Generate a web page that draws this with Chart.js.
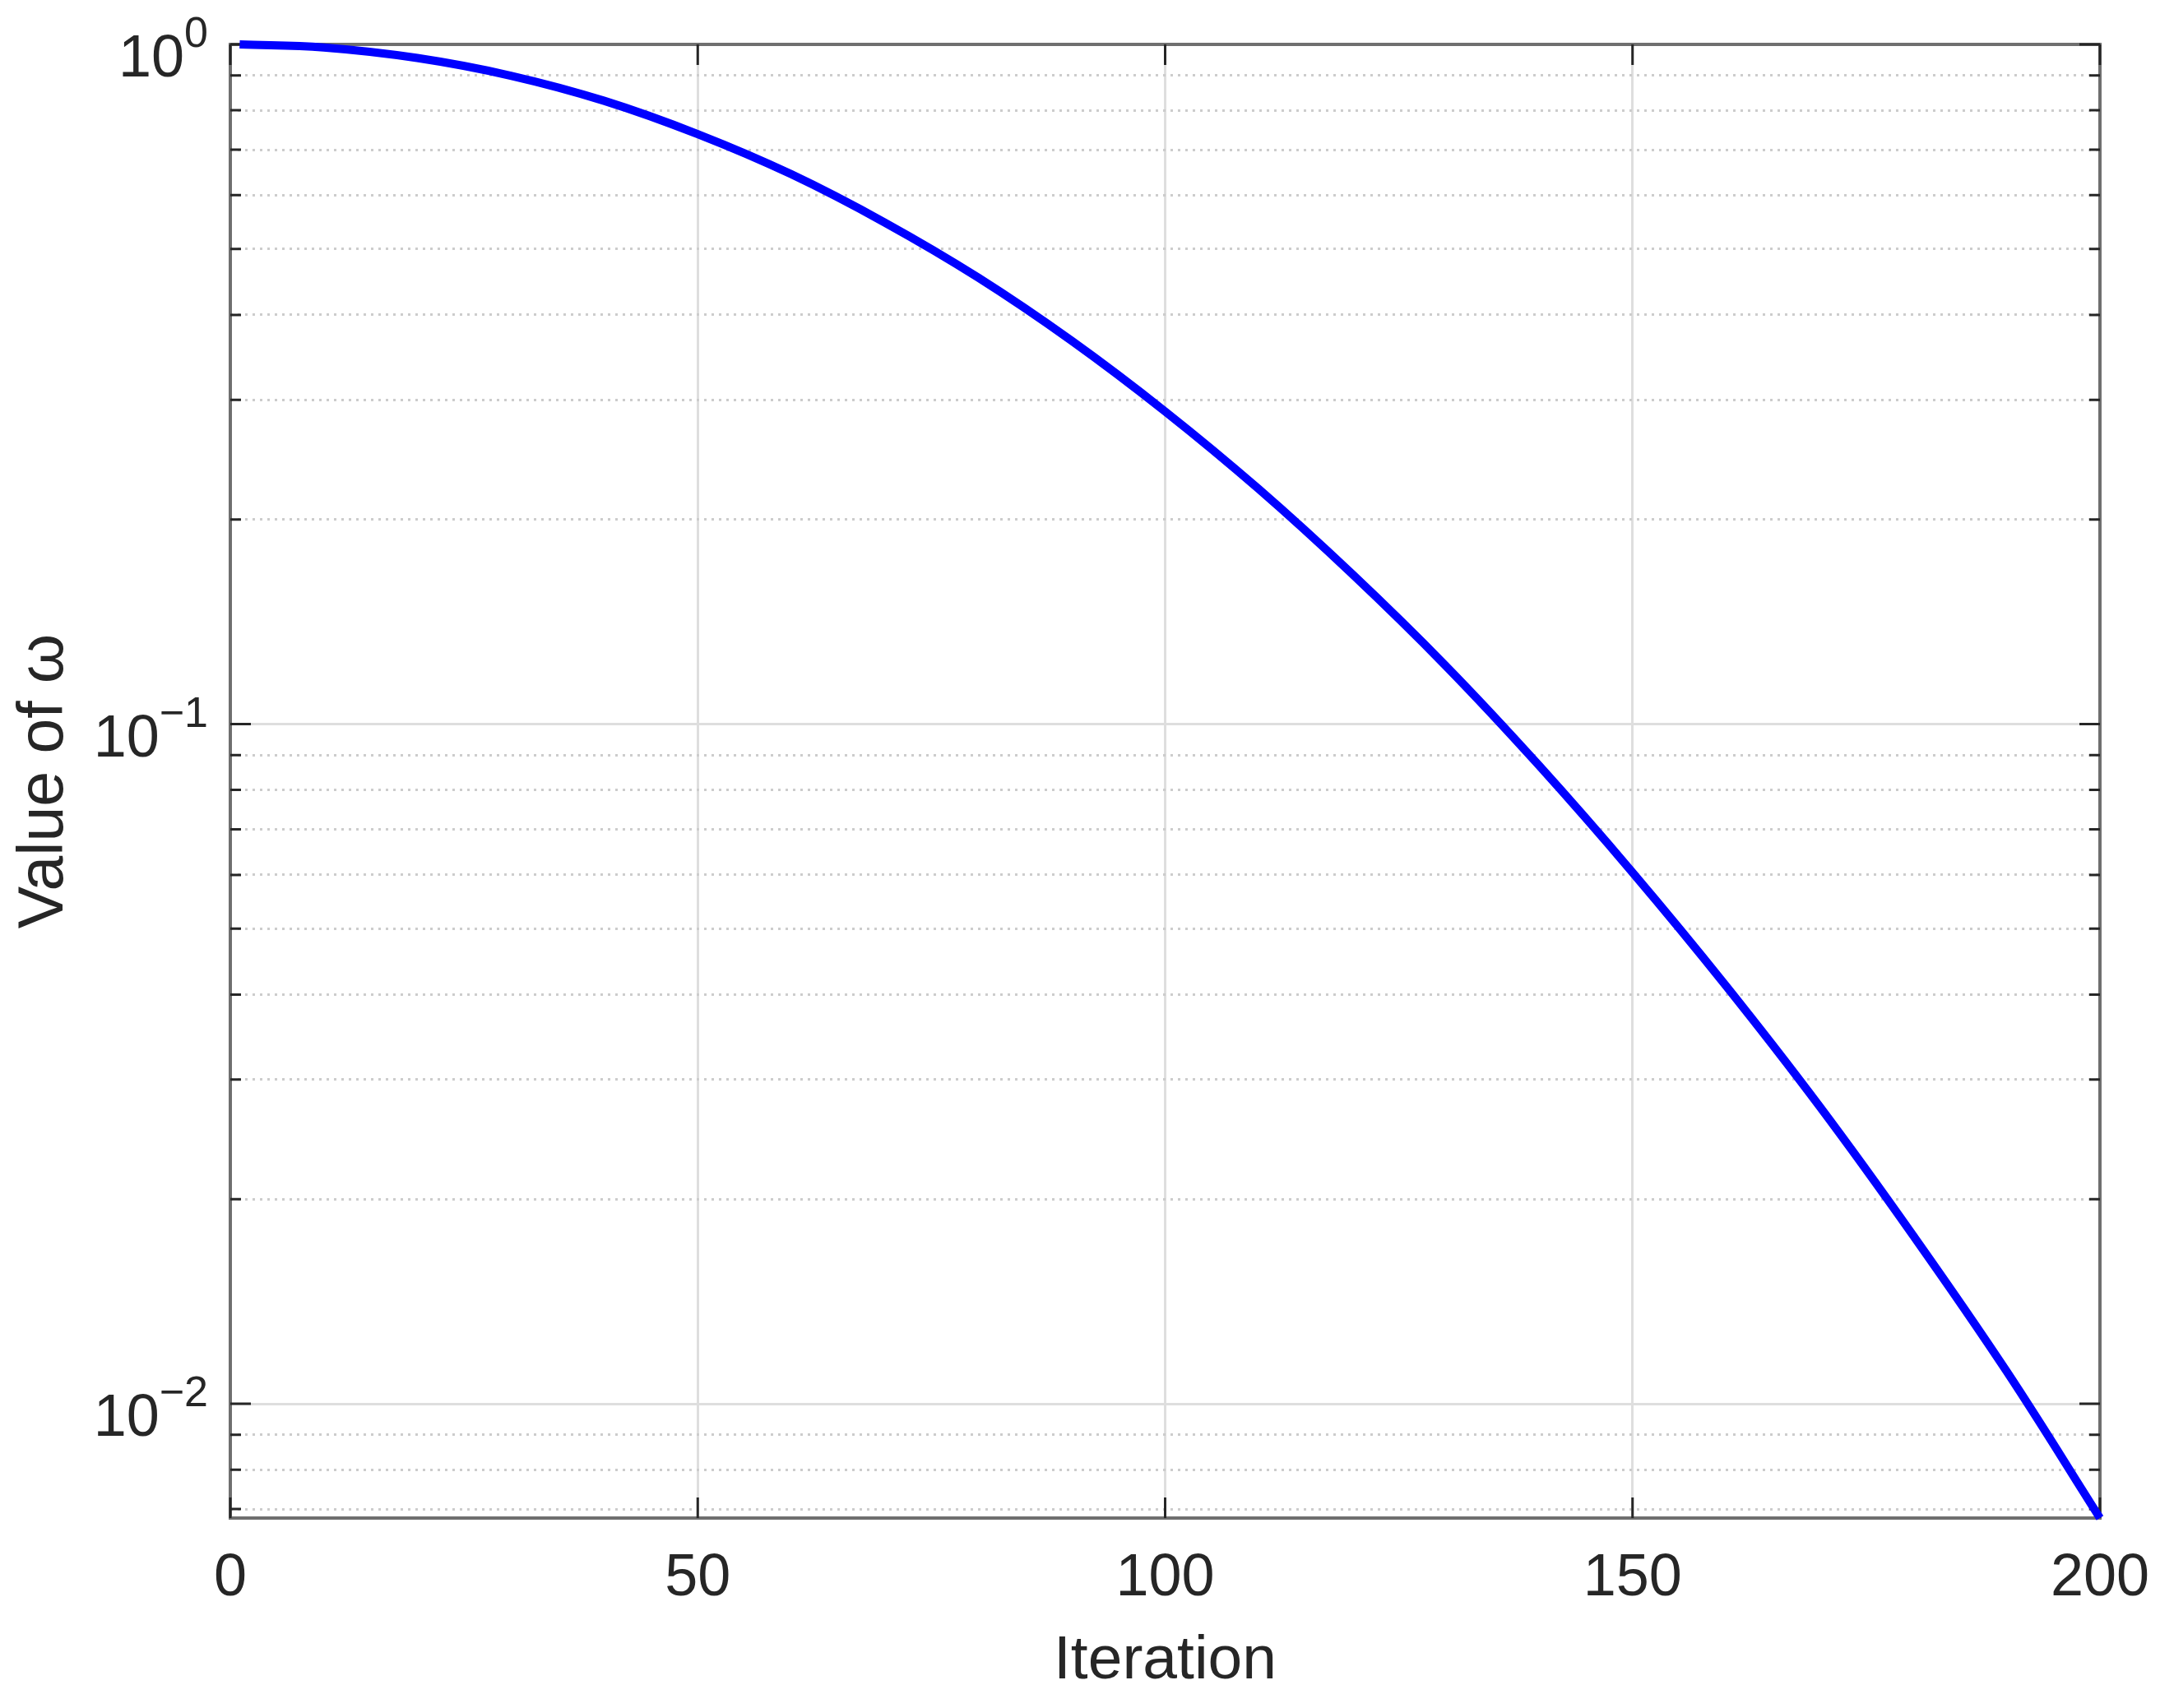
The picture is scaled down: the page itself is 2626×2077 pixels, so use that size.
<!DOCTYPE html>
<html>
<head>
<meta charset="utf-8">
<script src="https://cdn.jsdelivr.net/npm/chart.js@4.4.1/dist/chart.umd.min.js"></script>
<style>
  html, body { margin: 0; padding: 0; background: #fff; }
</style>
</head>
<body>
<canvas id="plot" width="2626" height="2077"></canvas>
<script>
// values (omega at every 10 iterations)
let iterations = [1, 10, 20, 30, 40, 50, 60, 70, 80, 90, 100, 110, 120, 130, 140, 150, 160, 170, 180, 190, 200];
let omega = [1.000, 0.9897, 0.955, 0.8995, 0.826, 0.7379, 0.6442, 0.547, 0.4539, 0.3664, 0.2884,
             0.2218, 0.1663, 0.1219, 0.0869, 0.0605, 0.0412, 0.0274, 0.0177, 0.01117, 0.00679];

// tick values and labels
let xTicks = [0, 50, 100, 150, 200];
let yMajorTicks = [1, 0.1, 0.01];
let yTickExponents = ['0', '\u22121', '\u22122'];
let yMinorTicks = [0.9, 0.8, 0.7, 0.6, 0.5, 0.4, 0.3, 0.2,
                   0.09, 0.08, 0.07, 0.06, 0.05, 0.04, 0.03, 0.02,
                   0.009, 0.008, 0.007];

let FONT = "'Liberation Sans', Arial, Helvetica, sans-serif";
let TEXT = '#262626';

let isMajor = v => yMajorTicks.includes(v);

// box, inner tick marks and the 10^n labels, drawn like matlab does
let matlabAxes = {
  id: 'matlabAxes',
  beforeDatasetsDraw: (chart) => {
    let ctx = chart.ctx;
    let area = chart.chartArea;
    let xs = chart.scales.x;
    let ys = chart.scales.y;
    ctx.save();
    ctx.strokeStyle = '#6f6f6f';
    ctx.lineWidth = 4;
    ctx.strokeRect(area.left, area.top, area.right - area.left, area.bottom - area.top);

    ctx.strokeStyle = TEXT;
    ctx.lineWidth = 3;
    ctx.beginPath();
    yMajorTicks.concat(yMinorTicks).forEach(v => {
      let y = ys.getPixelForValue(v);
      let len = isMajor(v) ? 25 : 13;
      ctx.moveTo(area.left, y); ctx.lineTo(area.left + len, y);
      ctx.moveTo(area.right, y); ctx.lineTo(area.right - len, y);
    });
    xTicks.forEach(v => {
      let x = xs.getPixelForValue(v);
      ctx.moveTo(x, area.bottom); ctx.lineTo(x, area.bottom - 25);
      ctx.moveTo(x, area.top); ctx.lineTo(x, area.top + 25);
    });
    ctx.stroke();
    ctx.restore();
  },
  afterDraw: (chart) => {
    let ctx = chart.ctx;
    let area = chart.chartArea;
    let ys = chart.scales.y;
    ctx.save();
    ctx.fillStyle = TEXT;
    ctx.textAlign = 'left';
    ctx.textBaseline = 'alphabetic';
    yMajorTicks.forEach((v, i) => {
      let y = ys.getPixelForValue(v);
      ctx.font = '72px ' + FONT;
      let wb = ctx.measureText('10').width;
      ctx.font = '52px ' + FONT;
      let we = ctx.measureText(yTickExponents[i]).width;
      let x0 = area.left - 27 - wb - we;
      ctx.font = '72px ' + FONT;
      ctx.fillText('10', x0, y + 39);
      ctx.font = '52px ' + FONT;
      ctx.fillText(yTickExponents[i], x0 + wb, y + 3);
    });
    ctx.restore();
  }
};

let plotRef = document.getElementById('plot');

let config = {
  type: 'line',
  data: {
    datasets: [
      {
        label: 'omega',
        data: iterations.map((it, i) => ({ x: it, y: omega[i] })),
        borderColor: '#0000ff',
        backgroundColor: '#0000ff',
        borderWidth: 10,
        pointRadius: 0,
        fill: false,
        tension: 0.4,
        clip: false
      }
    ]
  },
  options: {
    responsive: false,
    devicePixelRatio: 1,
    animation: false,
    layout: { padding: { top: 54, right: 73, left: 0, bottom: 0 } },
    plugins: {
      legend: { display: false },
      tooltip: { enabled: false }
    },
    scales: {
      x: {
        type: 'linear',
        min: 0,
        max: 200,
        afterBuildTicks: s => { s.ticks = xTicks.map(v => ({ value: v })); },
        afterFit: s => { s.height = 231; s.paddingLeft = 0; s.paddingRight = 0; },
        ticks: {
          font: { family: FONT, size: 72 },
          color: TEXT,
          padding: 31
        },
        grid: { color: '#dedede', lineWidth: 3, drawTicks: false },
        border: { display: false },
        title: {
          display: true,
          text: 'Iteration',
          font: { family: FONT, size: 75 },
          color: TEXT,
          padding: { top: 0, bottom: 12 }
        }
      },
      y: {
        type: 'logarithmic',
        min: 0.00679,
        max: 1,
        afterBuildTicks: s => {
          s.ticks = yMajorTicks.concat(yMinorTicks).sort((a, b) => a - b).map(v => ({ value: v }));
        },
        afterFit: s => { s.width = 280; s.paddingTop = 0; s.paddingBottom = 0; },
        ticks: { display: false },
        grid: {
          color: c => (c.tick && isMajor(c.tick.value)) ? '#dedede' : '#cccccc',
          lineWidth: 3,
          drawTicks: false
        },
        border: {
          display: false,
          dash: c => (c.tick && !isMajor(c.tick.value)) ? [3, 6] : []
        },
        title: {
          display: true,
          text: 'Value of ω',
          font: { family: FONT, size: 77 },
          color: TEXT,
          padding: { top: 9, bottom: 0 }
        }
      }
    }
  },
  plugins: [matlabAxes]
};

let chart1 = new Chart(plotRef, config);
</script>
</body>
</html>
